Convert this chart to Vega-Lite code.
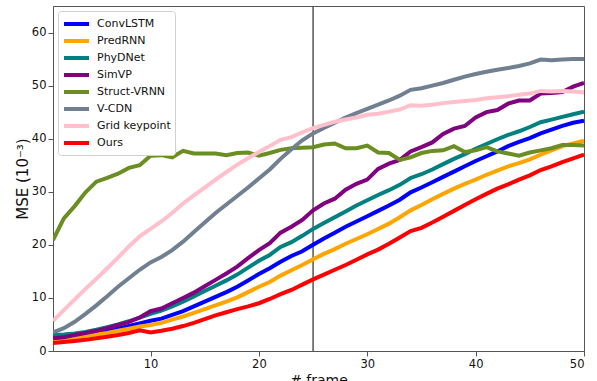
{
  "$schema": "https://vega.github.io/schema/vega-lite/v6.json",
  "width": 531,
  "height": 345,
  "autosize": "none",
  "padding": {"left": 53, "top": 6, "right": 13, "bottom": 30},
  "background": "white",
  "config": {
    "font": "DejaVu Sans",
    "view": {"stroke": "#555", "strokeWidth": 1},
    "axis": {
      "grid": false,
      "domainColor": "#555",
      "tickColor": "#555",
      "labelColor": "#111",
      "titleColor": "#111",
      "labelFont": "DejaVu Sans",
      "titleFont": "DejaVu Sans",
      "labelFontSize": 11.5,
      "titleFontSize": 14,
      "titleFontWeight": "normal",
      "tickSize": 5,
      "labelPadding": 2
    },
    "legend": {
      "labelFont": "DejaVu Sans",
      "labelFontSize": 11,
      "labelColor": "#111"
    }
  },
  "datasets": {
    "rule": [{"frame": 25}]
  },
  "layer": [
    {
      "data": {"name": "rule"},
      "mark": {"type": "rule", "color": "#555", "strokeWidth": 1.5},
      "encoding": {
        "x": {"field": "frame", "type": "quantitative", "scale": {"domain": [1, 50]}}
      }
    },
    {
      "data": {"values": [
        {"model":"ConvLSTM","frame":1,"mse":2.6},{"model":"ConvLSTM","frame":2,"mse":2.7},{"model":"ConvLSTM","frame":3,"mse":2.9},{"model":"ConvLSTM","frame":4,"mse":3.1},{"model":"ConvLSTM","frame":5,"mse":3.4},{"model":"ConvLSTM","frame":6,"mse":3.8},{"model":"ConvLSTM","frame":7,"mse":4.2},{"model":"ConvLSTM","frame":8,"mse":4.7},{"model":"ConvLSTM","frame":9,"mse":5.2},{"model":"ConvLSTM","frame":10,"mse":5.7},
        {"model":"ConvLSTM","frame":11,"mse":6.1},{"model":"ConvLSTM","frame":12,"mse":6.8},{"model":"ConvLSTM","frame":13,"mse":7.5},{"model":"ConvLSTM","frame":14,"mse":8.4},{"model":"ConvLSTM","frame":15,"mse":9.3},{"model":"ConvLSTM","frame":16,"mse":10.2},{"model":"ConvLSTM","frame":17,"mse":11.1},{"model":"ConvLSTM","frame":18,"mse":12.1},{"model":"ConvLSTM","frame":19,"mse":13.3},{"model":"ConvLSTM","frame":20,"mse":14.5},
        {"model":"ConvLSTM","frame":21,"mse":15.6},{"model":"ConvLSTM","frame":22,"mse":16.8},{"model":"ConvLSTM","frame":23,"mse":17.9},{"model":"ConvLSTM","frame":24,"mse":18.8},{"model":"ConvLSTM","frame":25,"mse":20.0},{"model":"ConvLSTM","frame":26,"mse":21.2},{"model":"ConvLSTM","frame":27,"mse":22.3},{"model":"ConvLSTM","frame":28,"mse":23.4},{"model":"ConvLSTM","frame":29,"mse":24.4},{"model":"ConvLSTM","frame":30,"mse":25.4},
        {"model":"ConvLSTM","frame":31,"mse":26.4},{"model":"ConvLSTM","frame":32,"mse":27.4},{"model":"ConvLSTM","frame":33,"mse":28.5},{"model":"ConvLSTM","frame":34,"mse":29.9},{"model":"ConvLSTM","frame":35,"mse":30.8},{"model":"ConvLSTM","frame":36,"mse":31.8},{"model":"ConvLSTM","frame":37,"mse":32.8},{"model":"ConvLSTM","frame":38,"mse":33.8},{"model":"ConvLSTM","frame":39,"mse":34.8},{"model":"ConvLSTM","frame":40,"mse":35.8},
        {"model":"ConvLSTM","frame":41,"mse":36.7},{"model":"ConvLSTM","frame":42,"mse":37.6},{"model":"ConvLSTM","frame":43,"mse":38.6},{"model":"ConvLSTM","frame":44,"mse":39.4},{"model":"ConvLSTM","frame":45,"mse":40.1},{"model":"ConvLSTM","frame":46,"mse":41.0},{"model":"ConvLSTM","frame":47,"mse":41.7},{"model":"ConvLSTM","frame":48,"mse":42.4},{"model":"ConvLSTM","frame":49,"mse":43.0},{"model":"ConvLSTM","frame":50,"mse":43.4},

        {"model":"PredRNN","frame":1,"mse":2.0},{"model":"PredRNN","frame":2,"mse":2.2},{"model":"PredRNN","frame":3,"mse":2.5},{"model":"PredRNN","frame":4,"mse":2.8},{"model":"PredRNN","frame":5,"mse":3.1},{"model":"PredRNN","frame":6,"mse":3.4},{"model":"PredRNN","frame":7,"mse":3.8},{"model":"PredRNN","frame":8,"mse":4.2},{"model":"PredRNN","frame":9,"mse":4.6},{"model":"PredRNN","frame":10,"mse":4.9},
        {"model":"PredRNN","frame":11,"mse":5.3},{"model":"PredRNN","frame":12,"mse":5.9},{"model":"PredRNN","frame":13,"mse":6.5},{"model":"PredRNN","frame":14,"mse":7.2},{"model":"PredRNN","frame":15,"mse":7.9},{"model":"PredRNN","frame":16,"mse":8.6},{"model":"PredRNN","frame":17,"mse":9.3},{"model":"PredRNN","frame":18,"mse":10.1},{"model":"PredRNN","frame":19,"mse":11.1},{"model":"PredRNN","frame":20,"mse":12.1},
        {"model":"PredRNN","frame":21,"mse":13.0},{"model":"PredRNN","frame":22,"mse":14.2},{"model":"PredRNN","frame":23,"mse":15.2},{"model":"PredRNN","frame":24,"mse":16.2},{"model":"PredRNN","frame":25,"mse":17.3},{"model":"PredRNN","frame":26,"mse":18.3},{"model":"PredRNN","frame":27,"mse":19.2},{"model":"PredRNN","frame":28,"mse":20.2},{"model":"PredRNN","frame":29,"mse":21.1},{"model":"PredRNN","frame":30,"mse":22.0},
        {"model":"PredRNN","frame":31,"mse":23.0},{"model":"PredRNN","frame":32,"mse":24.0},{"model":"PredRNN","frame":33,"mse":25.2},{"model":"PredRNN","frame":34,"mse":26.5},{"model":"PredRNN","frame":35,"mse":27.5},{"model":"PredRNN","frame":36,"mse":28.6},{"model":"PredRNN","frame":37,"mse":29.6},{"model":"PredRNN","frame":38,"mse":30.6},{"model":"PredRNN","frame":39,"mse":31.5},{"model":"PredRNN","frame":40,"mse":32.3},
        {"model":"PredRNN","frame":41,"mse":33.2},{"model":"PredRNN","frame":42,"mse":34.0},{"model":"PredRNN","frame":43,"mse":34.8},{"model":"PredRNN","frame":44,"mse":35.4},{"model":"PredRNN","frame":45,"mse":36.1},{"model":"PredRNN","frame":46,"mse":37.0},{"model":"PredRNN","frame":47,"mse":37.8},{"model":"PredRNN","frame":48,"mse":38.6},{"model":"PredRNN","frame":49,"mse":39.1},{"model":"PredRNN","frame":50,"mse":39.6},

        {"model":"PhyDNet","frame":1,"mse":3.0},{"model":"PhyDNet","frame":2,"mse":3.1},{"model":"PhyDNet","frame":3,"mse":3.3},{"model":"PhyDNet","frame":4,"mse":3.6},{"model":"PhyDNet","frame":5,"mse":4.0},{"model":"PhyDNet","frame":6,"mse":4.5},{"model":"PhyDNet","frame":7,"mse":5.0},{"model":"PhyDNet","frame":8,"mse":5.6},{"model":"PhyDNet","frame":9,"mse":6.3},{"model":"PhyDNet","frame":10,"mse":7.0},
        {"model":"PhyDNet","frame":11,"mse":7.6},{"model":"PhyDNet","frame":12,"mse":8.4},{"model":"PhyDNet","frame":13,"mse":9.3},{"model":"PhyDNet","frame":14,"mse":10.3},{"model":"PhyDNet","frame":15,"mse":11.3},{"model":"PhyDNet","frame":16,"mse":12.3},{"model":"PhyDNet","frame":17,"mse":13.3},{"model":"PhyDNet","frame":18,"mse":14.4},{"model":"PhyDNet","frame":19,"mse":15.7},{"model":"PhyDNet","frame":20,"mse":17.0},
        {"model":"PhyDNet","frame":21,"mse":18.1},{"model":"PhyDNet","frame":22,"mse":19.6},{"model":"PhyDNet","frame":23,"mse":20.5},{"model":"PhyDNet","frame":24,"mse":21.7},{"model":"PhyDNet","frame":25,"mse":23.0},{"model":"PhyDNet","frame":26,"mse":24.1},{"model":"PhyDNet","frame":27,"mse":25.2},{"model":"PhyDNet","frame":28,"mse":26.3},{"model":"PhyDNet","frame":29,"mse":27.4},{"model":"PhyDNet","frame":30,"mse":28.4},
        {"model":"PhyDNet","frame":31,"mse":29.4},{"model":"PhyDNet","frame":32,"mse":30.3},{"model":"PhyDNet","frame":33,"mse":31.3},{"model":"PhyDNet","frame":34,"mse":32.6},{"model":"PhyDNet","frame":35,"mse":33.3},{"model":"PhyDNet","frame":36,"mse":34.2},{"model":"PhyDNet","frame":37,"mse":35.2},{"model":"PhyDNet","frame":38,"mse":36.2},{"model":"PhyDNet","frame":39,"mse":37.1},{"model":"PhyDNet","frame":40,"mse":38.1},
        {"model":"PhyDNet","frame":41,"mse":39.0},{"model":"PhyDNet","frame":42,"mse":39.9},{"model":"PhyDNet","frame":43,"mse":40.7},{"model":"PhyDNet","frame":44,"mse":41.4},{"model":"PhyDNet","frame":45,"mse":42.2},{"model":"PhyDNet","frame":46,"mse":43.1},{"model":"PhyDNet","frame":47,"mse":43.6},{"model":"PhyDNet","frame":48,"mse":44.1},{"model":"PhyDNet","frame":49,"mse":44.6},{"model":"PhyDNet","frame":50,"mse":45.1},

        {"model":"SimVP","frame":1,"mse":2.4},{"model":"SimVP","frame":2,"mse":2.6},{"model":"SimVP","frame":3,"mse":3.0},{"model":"SimVP","frame":4,"mse":3.4},{"model":"SimVP","frame":5,"mse":3.8},{"model":"SimVP","frame":6,"mse":4.3},{"model":"SimVP","frame":7,"mse":4.9},{"model":"SimVP","frame":8,"mse":5.5},{"model":"SimVP","frame":9,"mse":6.3},{"model":"SimVP","frame":10,"mse":7.5},
        {"model":"SimVP","frame":11,"mse":8.0},{"model":"SimVP","frame":12,"mse":9.0},{"model":"SimVP","frame":13,"mse":10.0},{"model":"SimVP","frame":14,"mse":11.0},{"model":"SimVP","frame":15,"mse":12.2},{"model":"SimVP","frame":16,"mse":13.4},{"model":"SimVP","frame":17,"mse":14.6},{"model":"SimVP","frame":18,"mse":15.9},{"model":"SimVP","frame":19,"mse":17.5},{"model":"SimVP","frame":20,"mse":19.0},
        {"model":"SimVP","frame":21,"mse":20.3},{"model":"SimVP","frame":22,"mse":22.3},{"model":"SimVP","frame":23,"mse":23.4},{"model":"SimVP","frame":24,"mse":24.7},{"model":"SimVP","frame":25,"mse":26.5},{"model":"SimVP","frame":26,"mse":27.8},{"model":"SimVP","frame":27,"mse":28.7},{"model":"SimVP","frame":28,"mse":30.4},{"model":"SimVP","frame":29,"mse":31.5},{"model":"SimVP","frame":30,"mse":32.3},
        {"model":"SimVP","frame":31,"mse":34.3},{"model":"SimVP","frame":32,"mse":35.3},{"model":"SimVP","frame":33,"mse":36.0},{"model":"SimVP","frame":34,"mse":37.6},{"model":"SimVP","frame":35,"mse":38.4},{"model":"SimVP","frame":36,"mse":39.3},{"model":"SimVP","frame":37,"mse":40.9},{"model":"SimVP","frame":38,"mse":41.9},{"model":"SimVP","frame":39,"mse":42.4},{"model":"SimVP","frame":40,"mse":44.0},
        {"model":"SimVP","frame":41,"mse":45.0},{"model":"SimVP","frame":42,"mse":45.4},{"model":"SimVP","frame":43,"mse":46.6},{"model":"SimVP","frame":44,"mse":47.2},{"model":"SimVP","frame":45,"mse":47.2},{"model":"SimVP","frame":46,"mse":48.5},{"model":"SimVP","frame":47,"mse":48.6},{"model":"SimVP","frame":48,"mse":48.8},{"model":"SimVP","frame":49,"mse":49.8},{"model":"SimVP","frame":50,"mse":50.5},

        {"model":"Struct-VRNN","frame":1,"mse":20.9},{"model":"Struct-VRNN","frame":2,"mse":25.0},{"model":"Struct-VRNN","frame":3,"mse":27.3},{"model":"Struct-VRNN","frame":4,"mse":29.9},{"model":"Struct-VRNN","frame":5,"mse":31.9},{"model":"Struct-VRNN","frame":6,"mse":32.6},{"model":"Struct-VRNN","frame":7,"mse":33.4},{"model":"Struct-VRNN","frame":8,"mse":34.5},{"model":"Struct-VRNN","frame":9,"mse":35.0},{"model":"Struct-VRNN","frame":10,"mse":36.8},
        {"model":"Struct-VRNN","frame":11,"mse":36.9},{"model":"Struct-VRNN","frame":12,"mse":36.5},{"model":"Struct-VRNN","frame":13,"mse":37.7},{"model":"Struct-VRNN","frame":14,"mse":37.2},{"model":"Struct-VRNN","frame":15,"mse":37.2},{"model":"Struct-VRNN","frame":16,"mse":37.2},{"model":"Struct-VRNN","frame":17,"mse":36.9},{"model":"Struct-VRNN","frame":18,"mse":37.3},{"model":"Struct-VRNN","frame":19,"mse":37.4},{"model":"Struct-VRNN","frame":20,"mse":36.8},
        {"model":"Struct-VRNN","frame":21,"mse":37.3},{"model":"Struct-VRNN","frame":22,"mse":37.9},{"model":"Struct-VRNN","frame":23,"mse":38.2},{"model":"Struct-VRNN","frame":24,"mse":38.3},{"model":"Struct-VRNN","frame":25,"mse":38.4},{"model":"Struct-VRNN","frame":26,"mse":38.9},{"model":"Struct-VRNN","frame":27,"mse":39.1},{"model":"Struct-VRNN","frame":28,"mse":38.2},{"model":"Struct-VRNN","frame":29,"mse":38.2},{"model":"Struct-VRNN","frame":30,"mse":38.7},
        {"model":"Struct-VRNN","frame":31,"mse":37.4},{"model":"Struct-VRNN","frame":32,"mse":37.3},{"model":"Struct-VRNN","frame":33,"mse":36.0},{"model":"Struct-VRNN","frame":34,"mse":36.5},{"model":"Struct-VRNN","frame":35,"mse":37.3},{"model":"Struct-VRNN","frame":36,"mse":37.7},{"model":"Struct-VRNN","frame":37,"mse":37.8},{"model":"Struct-VRNN","frame":38,"mse":38.6},{"model":"Struct-VRNN","frame":39,"mse":37.5},{"model":"Struct-VRNN","frame":40,"mse":37.8},
        {"model":"Struct-VRNN","frame":41,"mse":38.4},{"model":"Struct-VRNN","frame":42,"mse":37.6},{"model":"Struct-VRNN","frame":43,"mse":37.2},{"model":"Struct-VRNN","frame":44,"mse":36.8},{"model":"Struct-VRNN","frame":45,"mse":37.4},{"model":"Struct-VRNN","frame":46,"mse":37.8},{"model":"Struct-VRNN","frame":47,"mse":38.2},{"model":"Struct-VRNN","frame":48,"mse":38.8},{"model":"Struct-VRNN","frame":49,"mse":38.8},{"model":"Struct-VRNN","frame":50,"mse":38.7},

        {"model":"V-CDN","frame":1,"mse":3.5},{"model":"V-CDN","frame":2,"mse":4.3},{"model":"V-CDN","frame":3,"mse":5.5},{"model":"V-CDN","frame":4,"mse":7.0},{"model":"V-CDN","frame":5,"mse":8.6},{"model":"V-CDN","frame":6,"mse":10.3},{"model":"V-CDN","frame":7,"mse":12.1},{"model":"V-CDN","frame":8,"mse":13.7},{"model":"V-CDN","frame":9,"mse":15.3},{"model":"V-CDN","frame":10,"mse":16.7},
        {"model":"V-CDN","frame":11,"mse":17.7},{"model":"V-CDN","frame":12,"mse":19.0},{"model":"V-CDN","frame":13,"mse":20.6},{"model":"V-CDN","frame":14,"mse":22.4},{"model":"V-CDN","frame":15,"mse":24.2},{"model":"V-CDN","frame":16,"mse":26.0},{"model":"V-CDN","frame":17,"mse":27.6},{"model":"V-CDN","frame":18,"mse":29.2},{"model":"V-CDN","frame":19,"mse":30.8},{"model":"V-CDN","frame":20,"mse":32.5},
        {"model":"V-CDN","frame":21,"mse":34.2},{"model":"V-CDN","frame":22,"mse":36.2},{"model":"V-CDN","frame":23,"mse":38.0},{"model":"V-CDN","frame":24,"mse":39.7},{"model":"V-CDN","frame":25,"mse":41.0},{"model":"V-CDN","frame":26,"mse":42.0},{"model":"V-CDN","frame":27,"mse":43.0},{"model":"V-CDN","frame":28,"mse":44.0},{"model":"V-CDN","frame":29,"mse":44.8},{"model":"V-CDN","frame":30,"mse":45.6},
        {"model":"V-CDN","frame":31,"mse":46.4},{"model":"V-CDN","frame":32,"mse":47.2},{"model":"V-CDN","frame":33,"mse":48.1},{"model":"V-CDN","frame":34,"mse":49.2},{"model":"V-CDN","frame":35,"mse":49.5},{"model":"V-CDN","frame":36,"mse":50.0},{"model":"V-CDN","frame":37,"mse":50.5},{"model":"V-CDN","frame":38,"mse":51.1},{"model":"V-CDN","frame":39,"mse":51.7},{"model":"V-CDN","frame":40,"mse":52.2},
        {"model":"V-CDN","frame":41,"mse":52.6},{"model":"V-CDN","frame":42,"mse":53.0},{"model":"V-CDN","frame":43,"mse":53.3},{"model":"V-CDN","frame":44,"mse":53.7},{"model":"V-CDN","frame":45,"mse":54.2},{"model":"V-CDN","frame":46,"mse":54.9},{"model":"V-CDN","frame":47,"mse":54.8},{"model":"V-CDN","frame":48,"mse":54.9},{"model":"V-CDN","frame":49,"mse":55.0},{"model":"V-CDN","frame":50,"mse":55.0},

        {"model":"Grid keypoint","frame":1,"mse":5.7},{"model":"Grid keypoint","frame":2,"mse":7.7},{"model":"Grid keypoint","frame":3,"mse":9.7},{"model":"Grid keypoint","frame":4,"mse":11.7},{"model":"Grid keypoint","frame":5,"mse":13.6},{"model":"Grid keypoint","frame":6,"mse":15.6},{"model":"Grid keypoint","frame":7,"mse":17.6},{"model":"Grid keypoint","frame":8,"mse":19.7},{"model":"Grid keypoint","frame":9,"mse":21.6},{"model":"Grid keypoint","frame":10,"mse":23.0},
        {"model":"Grid keypoint","frame":11,"mse":24.4},{"model":"Grid keypoint","frame":12,"mse":26.0},{"model":"Grid keypoint","frame":13,"mse":27.8},{"model":"Grid keypoint","frame":14,"mse":29.3},{"model":"Grid keypoint","frame":15,"mse":30.8},{"model":"Grid keypoint","frame":16,"mse":32.3},{"model":"Grid keypoint","frame":17,"mse":33.7},{"model":"Grid keypoint","frame":18,"mse":35.1},{"model":"Grid keypoint","frame":19,"mse":36.3},{"model":"Grid keypoint","frame":20,"mse":37.5},
        {"model":"Grid keypoint","frame":21,"mse":38.6},{"model":"Grid keypoint","frame":22,"mse":39.8},{"model":"Grid keypoint","frame":23,"mse":40.3},{"model":"Grid keypoint","frame":24,"mse":41.2},{"model":"Grid keypoint","frame":25,"mse":42.0},{"model":"Grid keypoint","frame":26,"mse":42.6},{"model":"Grid keypoint","frame":27,"mse":43.2},{"model":"Grid keypoint","frame":28,"mse":43.6},{"model":"Grid keypoint","frame":29,"mse":44.0},{"model":"Grid keypoint","frame":30,"mse":44.5},
        {"model":"Grid keypoint","frame":31,"mse":44.7},{"model":"Grid keypoint","frame":32,"mse":45.1},{"model":"Grid keypoint","frame":33,"mse":45.5},{"model":"Grid keypoint","frame":34,"mse":46.3},{"model":"Grid keypoint","frame":35,"mse":46.2},{"model":"Grid keypoint","frame":36,"mse":46.4},{"model":"Grid keypoint","frame":37,"mse":46.7},{"model":"Grid keypoint","frame":38,"mse":46.9},{"model":"Grid keypoint","frame":39,"mse":47.1},{"model":"Grid keypoint","frame":40,"mse":47.3},
        {"model":"Grid keypoint","frame":41,"mse":47.6},{"model":"Grid keypoint","frame":42,"mse":47.8},{"model":"Grid keypoint","frame":43,"mse":48.0},{"model":"Grid keypoint","frame":44,"mse":48.3},{"model":"Grid keypoint","frame":45,"mse":48.5},{"model":"Grid keypoint","frame":46,"mse":49.0},{"model":"Grid keypoint","frame":47,"mse":48.9},{"model":"Grid keypoint","frame":48,"mse":49.0},{"model":"Grid keypoint","frame":49,"mse":48.9},{"model":"Grid keypoint","frame":50,"mse":48.7},

        {"model":"Ours","frame":1,"mse":1.5},{"model":"Ours","frame":2,"mse":1.7},{"model":"Ours","frame":3,"mse":1.9},{"model":"Ours","frame":4,"mse":2.1},{"model":"Ours","frame":5,"mse":2.4},{"model":"Ours","frame":6,"mse":2.7},{"model":"Ours","frame":7,"mse":3.0},{"model":"Ours","frame":8,"mse":3.4},{"model":"Ours","frame":9,"mse":3.9},{"model":"Ours","frame":10,"mse":3.5},
        {"model":"Ours","frame":11,"mse":3.8},{"model":"Ours","frame":12,"mse":4.2},{"model":"Ours","frame":13,"mse":4.7},{"model":"Ours","frame":14,"mse":5.3},{"model":"Ours","frame":15,"mse":6.0},{"model":"Ours","frame":16,"mse":6.7},{"model":"Ours","frame":17,"mse":7.3},{"model":"Ours","frame":18,"mse":7.9},{"model":"Ours","frame":19,"mse":8.4},{"model":"Ours","frame":20,"mse":9.0},
        {"model":"Ours","frame":21,"mse":9.8},{"model":"Ours","frame":22,"mse":10.7},{"model":"Ours","frame":23,"mse":11.5},{"model":"Ours","frame":24,"mse":12.5},{"model":"Ours","frame":25,"mse":13.5},{"model":"Ours","frame":26,"mse":14.4},{"model":"Ours","frame":27,"mse":15.3},{"model":"Ours","frame":28,"mse":16.2},{"model":"Ours","frame":29,"mse":17.2},{"model":"Ours","frame":30,"mse":18.2},
        {"model":"Ours","frame":31,"mse":19.1},{"model":"Ours","frame":32,"mse":20.2},{"model":"Ours","frame":33,"mse":21.4},{"model":"Ours","frame":34,"mse":22.6},{"model":"Ours","frame":35,"mse":23.2},{"model":"Ours","frame":36,"mse":24.2},{"model":"Ours","frame":37,"mse":25.3},{"model":"Ours","frame":38,"mse":26.4},{"model":"Ours","frame":39,"mse":27.5},{"model":"Ours","frame":40,"mse":28.6},
        {"model":"Ours","frame":41,"mse":29.6},{"model":"Ours","frame":42,"mse":30.6},{"model":"Ours","frame":43,"mse":31.4},{"model":"Ours","frame":44,"mse":32.3},{"model":"Ours","frame":45,"mse":33.1},{"model":"Ours","frame":46,"mse":34.1},{"model":"Ours","frame":47,"mse":34.8},{"model":"Ours","frame":48,"mse":35.6},{"model":"Ours","frame":49,"mse":36.3},{"model":"Ours","frame":50,"mse":37.0}
      ]},
      "mark": {"type": "line", "strokeWidth": 4, "clip": true},
      "encoding": {
        "x": {
          "field": "frame", "type": "quantitative",
          "scale": {"domain": [1, 50], "nice": false, "zero": false},
          "axis": {"values": [10, 20, 30, 40, 50], "title": "# frame", "titlePadding": 4}
        },
        "y": {
          "field": "mse", "type": "quantitative",
          "scale": {"domain": [0, 65], "nice": false},
          "axis": {"values": [0, 10, 20, 30, 40, 50, 60], "title": "MSE (10⁻³)", "titlePadding": 1, "titleFontSize": 15}
        },
        "color": {
          "field": "model", "type": "nominal",
          "sort": null,
          "scale": {
            "domain": ["ConvLSTM", "PredRNN", "PhyDNet", "SimVP", "Struct-VRNN", "V-CDN", "Grid keypoint", "Ours"],
            "range": ["#0000ff", "#ffa500", "#008080", "#800080", "#6b8e23", "#708090", "#ffc0cb", "#ff0000"]
          },
          "legend": {
            "title": null,
            "orient": "top-left",
            "offset": 5,
            "symbolType": "M-1,0H2.57",
            "symbolStrokeWidth": 4,
            "symbolSize": 196,
            "labelOffset": 17,
            "labelFontSize": 11,
            "rowPadding": -1,
            "padding": 4,
            "fillColor": "white",
            "strokeColor": "#d0d0d0",
            "cornerRadius": 3
          }
        }
      }
    }
  ]
}
